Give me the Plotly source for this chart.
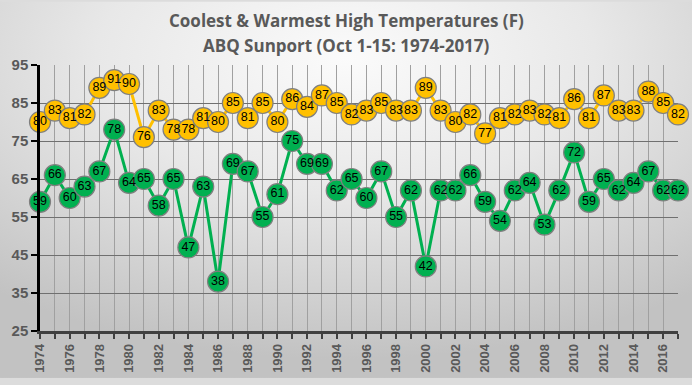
import base64
import plotly.graph_objects as go

years = list(range(1974, 2018))
warmest = [80, 83, 81, 82, 89, 91, 90, 76, 83, 78, 78, 81, 80, 85, 81, 85, 80, 86, 84, 87,
           85, 82, 83, 85, 83, 83, 89, 83, 80, 82, 77, 81, 82, 83, 82, 81, 86, 81, 87, 83,
           83, 88, 85, 82]
coolest = [59, 66, 60, 63, 67, 78, 64, 65, 58, 65, 47, 63, 38, 69, 67, 55, 61, 75, 69, 69,
           62, 65, 60, 67, 55, 62, 42, 62, 62, 66, 59, 54, 62, 64, 53, 62, 72, 59, 65, 62,
           64, 67, 62, 62]
y_ticks = [25, 35, 45, 55, 65, 75, 85, 95]
title_lines = ["Coolest & Warmest High Temperatures (F)", "ABQ Sunport (Oct 1-15: 1974-2017)"]

W, H = 692, 385
L, R, T, B = 40, 14, 65, 48
pw, ph = W - L - R, H - T - B

svg = (f'<svg xmlns="http://www.w3.org/2000/svg" width="{W}" height="{H}">'
       '<defs><radialGradient id="g" cx="50%" cy="15%" r="80%">'
       '<stop offset="0" stop-color="#fbfbfb"/><stop offset="0.45" stop-color="#e8e8e8"/>'
       '<stop offset="1" stop-color="#c2c2c2"/></radialGradient></defs>'
       f'<rect width="{W}" height="{H}" fill="url(#g)"/></svg>')
src = "data:image/svg+xml;base64," + base64.b64encode(svg.encode()).decode()

fig = go.Figure()
for vals, col in [(warmest, "#FFC000"), (coolest, "#00B050")]:
    fig.add_trace(go.Scatter(
        x=years, y=vals, mode="lines+markers+text", text=[str(v) for v in vals],
        textposition="middle center",
        textfont=dict(family="Liberation Sans", size=12.5, color="black"),
        line=dict(color=col, width=3),
        marker=dict(size=21, color=col, line=dict(color="#7f7f7f", width=1.2)),
        cliponaxis=False, showlegend=False, hoverinfo="x+y"))

title_centers_px = [19, 45]
annotations = [
    dict(text="<b>" + txt + "</b>", xref="paper", yref="paper",
         x=(W / 2 - L) / pw, y=1 + (T - cy) / ph, xanchor="center", yanchor="middle",
         showarrow=False, font=dict(family="Open Sans", size=17, color="#595959"))
    for txt, cy in zip(title_lines, title_centers_px)
]

fig.update_layout(
    width=W, height=H,
    margin=dict(l=L, r=R, t=T, b=B),
    paper_bgcolor="#dcdcdc", plot_bgcolor="rgba(0,0,0,0)",
    images=[dict(source=src, xref="paper", yref="paper",
                 x=-L / pw, y=1 + T / ph, sizex=W / pw, sizey=H / ph,
                 xanchor="left", yanchor="top", sizing="stretch", layer="below")],
    annotations=annotations,
    xaxis=dict(range=[1974, 2017], tickmode="linear", tick0=1974, dtick=2,
               tickangle=-90, ticks="outside", ticklen=5, tickwidth=2, tickcolor="#404040",
               showline=True, linecolor="#404040", linewidth=2.5,
               showgrid=True, gridcolor="#a0a0a0", gridwidth=1,
               minor=dict(dtick=1, tick0=1974, ticks="outside", ticklen=5, tickwidth=2,
                          tickcolor="#404040", showgrid=True, gridcolor="#a0a0a0", gridwidth=1),
               tickfont=dict(family="Liberation Sans", size=13, color="#595959", weight="bold"),
               zeroline=False, fixedrange=True),
    yaxis=dict(range=[25, 95], tickvals=y_ticks, ticks="outside", ticklen=6, tickwidth=2,
               tickcolor="black", showline=True, linecolor="black", linewidth=2.5,
               showgrid=True, gridcolor="#707070", gridwidth=1,
               tickfont=dict(family="Liberation Sans", size=15, color="#595959", weight="bold"),
               zeroline=False, fixedrange=True),
)

fig.write_html("out.html", config={"displayModeBar": False},
               post_script="document.body.style.margin='0';")
